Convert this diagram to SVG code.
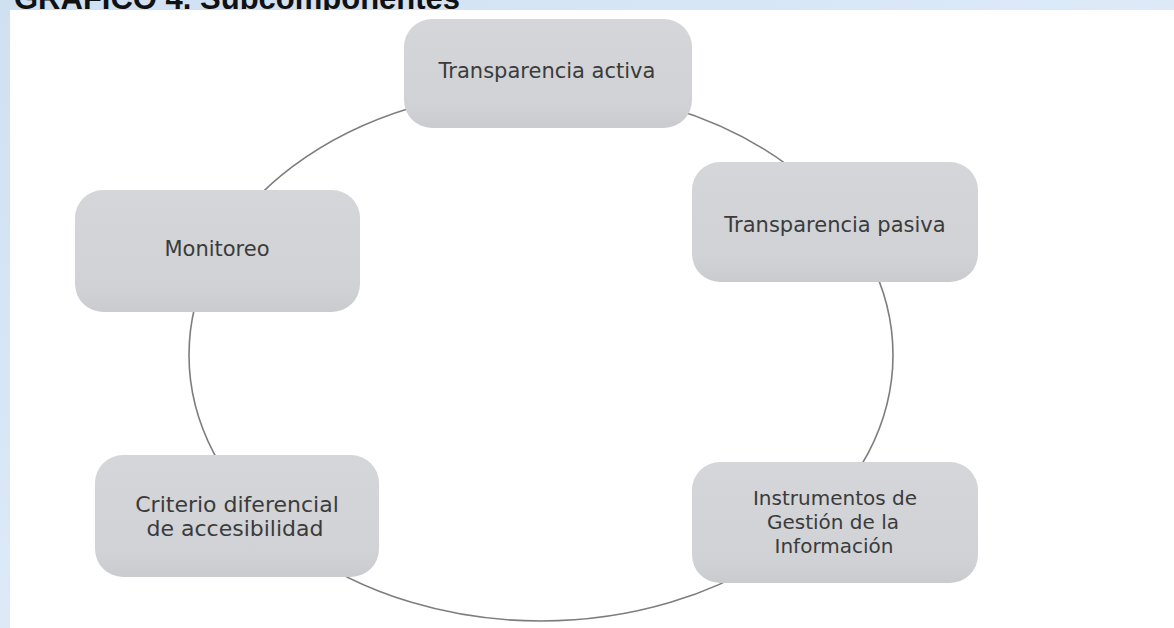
<svg xmlns="http://www.w3.org/2000/svg" width="1174" height="628" viewBox="0 0 1174 628">
  <defs>
    <linearGradient id="nodeFill" x1="0" y1="0" x2="0" y2="1">
      <stop offset="0" stop-color="#d4d6d9"/>
      <stop offset="0.8" stop-color="#d0d2d5"/>
      <stop offset="1" stop-color="#c9cbce"/>
    </linearGradient>
    <linearGradient id="bgBlue" x1="0" y1="0" x2="1" y2="1">
      <stop offset="0" stop-color="#cfe0f3"/>
      <stop offset="0.5" stop-color="#dceaf8"/>
      <stop offset="1" stop-color="#d2e3f5"/>
    </linearGradient>
  </defs>
  <style>
    .node { fill: url(#nodeFill); }
    .label { font-family: "DejaVu Sans", "Liberation Sans", sans-serif; font-size: 21px; fill: #3b3b3b; text-anchor: middle; }
    .ring { fill: none; stroke: #7d7d7d; stroke-width: 1.6; }
    .title { font-family: "Liberation Sans", Arial, sans-serif; font-size: 31px; font-weight: bold; fill: #111111; }
  </style>

  <!-- page background -->
  <rect x="0" y="0" width="1174" height="628" fill="url(#bgBlue)"/>
  <text class="title" x="14" y="9">GRÁFICO 4. Subcomponentes</text>
  <rect x="10" y="10" width="1164" height="618" fill="#ffffff"/>

  <!-- connectors -->
  <g id="connectors">
    <ellipse class="ring" cx="541" cy="355" rx="352" ry="266"/>
  </g>

  <g id="node-transparencia-activa">
    <rect class="node" x="404" y="19" width="288" height="109" rx="28"/>
    <text class="label" x="547" y="78">Transparencia activa</text>
  </g>

  <g id="node-transparencia-pasiva">
    <rect class="node" x="692" y="162" width="286" height="120" rx="28"/>
    <text class="label" x="835" y="232">Transparencia pasiva</text>
  </g>

  <g id="node-instrumentos">
    <rect class="node" x="692" y="462" width="286" height="121" rx="28"/>
    <text class="label" x="835" y="505" style="font-size:20px">Instrumentos de</text>
    <text class="label" x="833" y="529" style="font-size:20px">Gestión de la</text>
    <text class="label" x="834" y="553" style="font-size:20px">Información</text>
  </g>

  <g id="node-criterio">
    <rect class="node" x="95" y="455" width="284" height="122" rx="28"/>
    <text class="label" x="237" y="512" style="font-size:22px">Criterio diferencial</text>
    <text class="label" x="235" y="536" style="font-size:22px">de accesibilidad</text>
  </g>

  <g id="node-monitoreo">
    <rect class="node" x="75" y="190" width="285" height="122" rx="28"/>
    <text class="label" x="217" y="256">Monitoreo</text>
  </g>
</svg>
